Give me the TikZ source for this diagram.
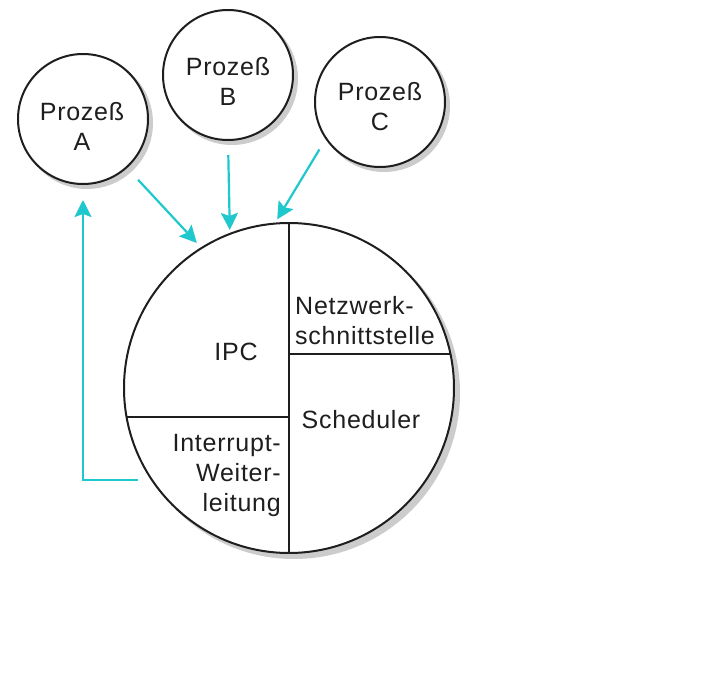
\documentclass[tikz,border=0pt]{standalone}
\usepackage{fontspec}
\setmainfont{Liberation Sans}[LetterSpace=3]
\usetikzlibrary{arrows.meta}
\definecolor{arrowc}{RGB}{30,200,205}
\definecolor{ink}{RGB}{30,30,30}
\begin{document}
\begin{tikzpicture}[x=1pt,y=-1pt,
  proc/.style={circle, draw=ink, line width=2pt, fill=white, minimum size=130pt, inner sep=0pt, outer sep=0pt},
  lbl/.style={font=\fontsize{25}{30}\selectfont, text=ink, inner sep=0pt},
  arr/.style={draw=arrowc, line width=2.2pt, -{Stealth[length=17pt,width=17pt,inset=3pt]}},
  div/.style={draw=ink, line width=2pt},
  shad/.style={fill=gray!40}]
\fill[white] (0,0) rectangle (724,693);
\useasboundingbox (0,0) rectangle (724,693);
% shadows
\fill[shad] (87,123) circle (66);
\fill[shad] (232,79) circle (66);
\fill[shad] (384,106) circle (66);
\fill[shad] (294,393) circle (166);
% circles
\node[proc] (A) at (83,119) {};
\node[proc] (B) at (228,75) {};
\node[proc] (C) at (380,102) {};
\node[proc, minimum size=330pt] (P) at (289,388) {};
% labels
\node[lbl, align=center] (tA) at (82,126) {Prozeß\\A};
\node[lbl, align=center] (tB) at (228,81) {Prozeß\\B};
\node[lbl, align=center] (tC) at (380,107) {Prozeß\\C};
% dividers
\draw[div] (P.north) -- (P.south);
\draw[div] (P.12.2) -- (P.12.2 -| P.center);
\draw[div] (P.190.8) -- (P.190.8 -| P.center);
% section labels
\node[lbl] (ipc) at (236,352) {IPC};
\node[lbl, align=left, anchor=west] (net) at (295,321) {Netzwerk-\\schnittstelle};
\node[lbl] (sch) at (361,420) {Scheduler};
\node[lbl, align=right, anchor=east] (intr) at (281,475) {Interrupt-\\Weiter-\\leitung};
% arrows
\draw[arr, shorten <=17pt, shorten >=7pt] (A.-48) -- (P.122.7);
\draw[arr, shorten <=15pt, shorten >=4pt] (B.-90) -- (P.111.3);
\draw[arr, shorten <=13pt, shorten >=5pt] (C.214.7) -- (P.95);
\draw[arr, shorten >=16pt] ([xshift=-14pt]P.214.7) -| (A.south);
\end{tikzpicture}
\end{document}
